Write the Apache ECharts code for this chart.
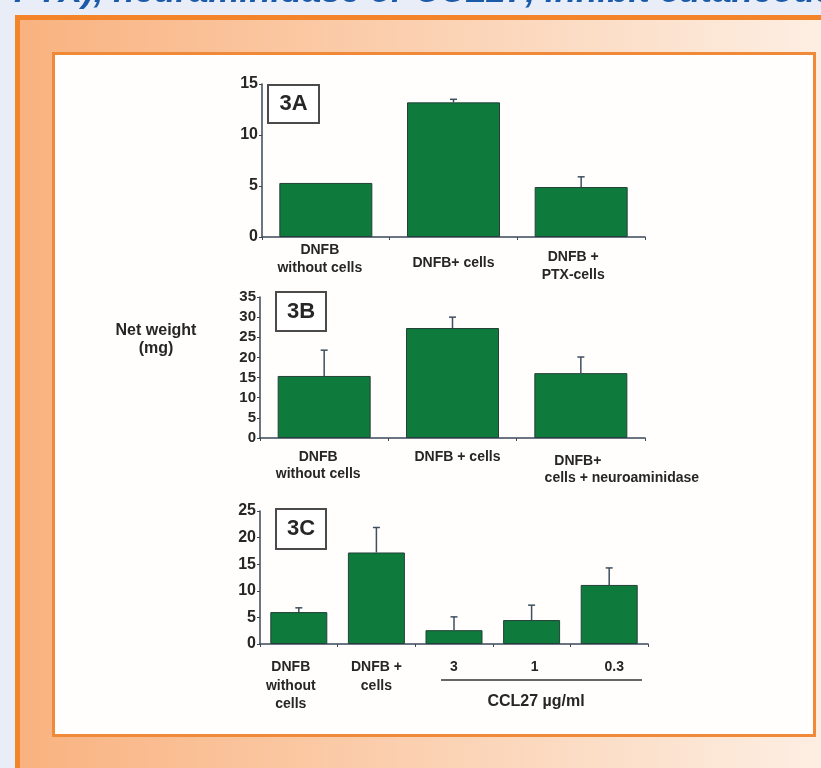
<!DOCTYPE html>
<html lang="en">
<head>
<meta charset="UTF-8">
<title>Net weight 3A 3B 3C</title>
<script src="https://cdn.jsdelivr.net/npm/echarts@6/dist/echarts.min.js"></script>
<style>
  body { margin: 0; background: #e9edf7; }
  #main { width: 821px; height: 768px; }
</style>
</head>
<body>
<div id="main"></div>
<script type="text/javascript">
// data
var catsA = ['DNFB\nwithout cells', 'DNFB+ cells', 'DNFB +\nPTX-cells'];
var valsA = [5.3, 13.2, 4.9];
var errTopA = [null, 13.5, 5.9];

var catsB = ['DNFB\nwithout cells', 'DNFB + cells', 'DNFB+\ncells + neuroaminidase'];
var valsB = [15.4, 27.3, 16.1];
var errTopB = [21.8, 30.0, 20.1];

var catsC = ['DNFB\nwithout\ncells', 'DNFB +\ncells', '3', '1', '0.3'];
var valsC = [6.0, 17.2, 2.6, 4.5, 11.1];
var errTopC = [6.8, 21.9, 5.1, 7.3, 14.3];

var panelNames = ['3A', '3B', '3C'];
var yName = 'Net weight\n(mg)';
var doseName = 'CCL27 µg/ml';
var titleText = 'PTX), neuraminidase or CCL27, inhibit cutaneous';

var FONT = '"Liberation Sans", Arial, sans-serif';
var TXT = '#262626';
var AXIS = '#3a4858';
var GREEN = '#0e7a3b';

var myChart = echarts.init(document.getElementById('main'));

// label offsets: top spacer (px) and horizontal shift per line
function richFor(spec, size, lh) {
    var rich = {};
    spec.forEach(function (s) {
        if (s.top) rich['t' + s.top] = { lineHeight: s.top, fontSize: 1 };
        (s.dx || [0]).forEach(function (d) {
            rich['x' + (d < 0 ? 'm' : 'p') + Math.abs(d)] = {
                fontSize: size, fontWeight: 'bold', fontFamily: FONT, color: TXT, lineHeight: lh,
                padding: d < 0 ? [0, -2 * d, 0, 0] : [0, 0, 0, 2 * d]
            };
        });
    });
    rich.xp0 = { fontSize: size, fontWeight: 'bold', fontFamily: FONT, color: TXT, lineHeight: lh };
    return rich;
}
function fmtFor(spec) {
    return function (value, index) {
        var s = spec[index] || {};
        var out = s.top ? ['{t' + s.top + '| }'] : [];
        String(value).split('\n').forEach(function (l, k) {
            var d = s.dx ? (s.dx[k] !== undefined ? s.dx[k] : s.dx[0]) : 0;
            out.push('{x' + (d < 0 ? 'm' : 'p') + Math.abs(d) + '|' + l + '}');
        });
        return out.join('\n');
    };
}

var specA = [{ dx: [-6] }, { top: 13 }, { top: 7, dx: [-8] }];
var specB = [{ dx: [-6] }, { dx: [5] }, { top: 4, dx: [-3, 41] }];
var specC = [{ dx: [-8] }, {}, {}, { dx: [3] }, { dx: [5] }];

function xAxisFor(grid, cats, spec, margin, lh) {
    return {
        type: 'category', gridIndex: grid, data: cats,
        axisLine: { lineStyle: { color: AXIS, width: 1.5 } },
        axisTick: { show: true, length: 3, lineStyle: { color: AXIS } },
        axisLabel: {
            interval: 0, margin: margin, color: TXT,
            formatter: fmtFor(spec), rich: richFor(spec, 14, lh)
        }
    };
}
function yAxisFor(grid, max, size) {
    return {
        type: 'value', gridIndex: grid, min: 0, max: max, interval: 5,
        splitLine: { show: false },
        axisLine: { show: true, lineStyle: { color: AXIS, width: 1.5 } },
        axisTick: { show: true, length: 3, lineStyle: { color: AXIS } },
        axisLabel: { margin: 4, color: TXT, fontSize: size, fontWeight: 'bold', fontFamily: FONT }
    };
}
function barFor(grid, vals, width) {
    return {
        type: 'bar', xAxisIndex: grid, yAxisIndex: grid, data: vals, barWidth: width,
        itemStyle: { color: GREEN, borderColor: '#23413a', borderWidth: 1 },
        silent: true
    };
}
function errFor(grid, vals, tops) {
    var data = [];
    tops.forEach(function (t, i) { if (t != null) data.push([i, vals[i], t]); });
    return {
        type: 'custom', xAxisIndex: grid, yAxisIndex: grid, z: 3, data: data,
        encode: { x: 0, y: [1, 2] },
        renderItem: function (params, api) {
            var b = api.coord([api.value(0), api.value(1)]);
            var t = api.coord([api.value(0), api.value(2)]);
            var st = { stroke: '#3d4f60', lineWidth: 1.5 };
            return {
                type: 'group', children: [
                    { type: 'line', shape: { x1: b[0], y1: b[1], x2: t[0], y2: t[1] }, style: st },
                    { type: 'line', shape: { x1: t[0] - 3.5, y1: t[1], x2: t[0] + 3.5, y2: t[1] }, style: st }
                ]
            };
        }
    };
}
function boxFor(name, x, y, w, h) {
    return [
        { type: 'rect', z: 50, shape: { x: x, y: y, width: w, height: h },
          style: { fill: '#ffffff', stroke: '#4a4a4a', lineWidth: 2 } },
        { type: 'text', z: 51, x: x + w / 2, y: y + h / 2,
          style: { text: name, fontSize: 22, fontWeight: 'bold', fontFamily: FONT, fill: TXT,
                   align: 'center', verticalAlign: 'middle' } }
    ];
}

var option = {
    backgroundColor: '#e9edf7',
    animation: false,
    grid: [
        { left: 262, top: 84, width: 383, height: 153 },
        { left: 260, top: 297, width: 385, height: 141 },
        { left: 260, top: 511, width: 388, height: 133 }
    ],
    xAxis: [
        xAxisFor(0, catsA, specA, 4, 18),
        xAxisFor(1, catsB, specB, 11, 17),
        xAxisFor(2, catsC, specC, 14, 18.5)
    ],
    yAxis: [yAxisFor(0, 15, 16), yAxisFor(1, 35, 15), yAxisFor(2, 25, 16)],
    series: [
        barFor(0, valsA, 93), errFor(0, valsA, errTopA),
        barFor(1, valsB, 93), errFor(1, valsB, errTopB),
        barFor(2, valsC, 57), errFor(2, valsC, errTopC)
    ],
    graphic: [
        { type: 'rect', z: -10, shape: { x: 17.5, y: 17.5, width: 820, height: 800 },
          style: {
              fill: new echarts.graphic.LinearGradient(0, 0, 1, 0, [
                  { offset: 0, color: '#f9b27f' }, { offset: 1, color: '#fdf0e5' }
              ]),
              stroke: '#f4842a', lineWidth: 5
          } },
        { type: 'rect', z: -9, shape: { x: 53.5, y: 53.5, width: 761, height: 682 },
          style: { fill: '#fffefc', stroke: '#f08a38', lineWidth: 3 } },
        { type: 'text', z: -8, x: 14, y: -8,
          style: { text: titleText, fontSize: 35, fontWeight: 'bold', fontStyle: 'italic', fontFamily: FONT,
                   fill: '#1a5aa8', verticalAlign: 'middle' } },
        { type: 'text', z: 51, x: 156, y: 322,
          style: { text: yName, fontSize: 16, fontWeight: 'bold', fontFamily: FONT, fill: TXT,
                   align: 'center', verticalAlign: 'top', lineHeight: 18 } },
        { type: 'line', z: 51, shape: { x1: 441, y1: 680, x2: 642, y2: 680 },
          style: { stroke: '#333333', lineWidth: 1.5 } },
        { type: 'text', z: 51, x: 536, y: 702,
          style: { text: doseName, fontSize: 16, fontWeight: 'bold', fontFamily: FONT, fill: TXT,
                   align: 'center', verticalAlign: 'middle' } }
    ].concat(boxFor(panelNames[0], 268, 85, 51, 38))
     .concat(boxFor(panelNames[1], 276, 292, 50, 39))
     .concat(boxFor(panelNames[2], 276, 509, 50, 40))
};

myChart.setOption(option);
</script>
</body>
</html>
